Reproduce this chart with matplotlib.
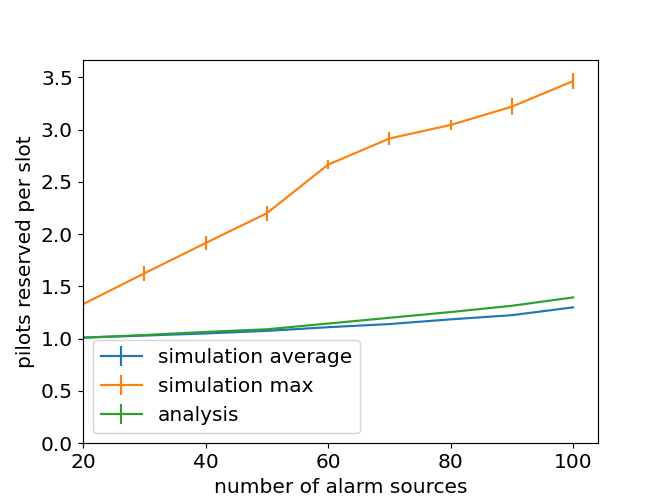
import matplotlib
matplotlib.use('Agg')
import matplotlib.pyplot as plt

plt.rcParams['font.size'] = 14

alarm_sources = [20, 30, 40, 50, 60, 70, 80, 90, 100]

sim_avg = [1.01, 1.03, 1.05, 1.075, 1.11, 1.14, 1.185, 1.225, 1.30]
sim_avg_err = [0.004, 0.004, 0.004, 0.004, 0.005, 0.005, 0.005, 0.006, 0.006]

sim_max = [1.33, 1.625, 1.915, 2.20, 2.665, 2.915, 3.045, 3.22, 3.465]
sim_max_err = [0.06, 0.07, 0.068, 0.072, 0.043, 0.062, 0.05, 0.08, 0.077]

analysis = [1.01, 1.035, 1.065, 1.09, 1.145, 1.20, 1.255, 1.315, 1.395]
analysis_err = [0.004, 0.004, 0.004, 0.004, 0.005, 0.005, 0.005, 0.006, 0.006]

fig, ax = plt.subplots(figsize=(6.4, 4.8), dpi=103.75)
ax.errorbar(alarm_sources, sim_avg, yerr=sim_avg_err, label='simulation average')
ax.errorbar(alarm_sources, sim_max, yerr=sim_max_err, label='simulation max')
ax.errorbar(alarm_sources, analysis, yerr=analysis_err, label='analysis')

ax.set_xlim(left=20)
ax.set_ylim(bottom=0)
ax.set_xlabel('number of alarm sources')
ax.set_ylabel('pilots reserved per slot')
ax.legend(loc='lower left')

plt.savefig('out.png')
